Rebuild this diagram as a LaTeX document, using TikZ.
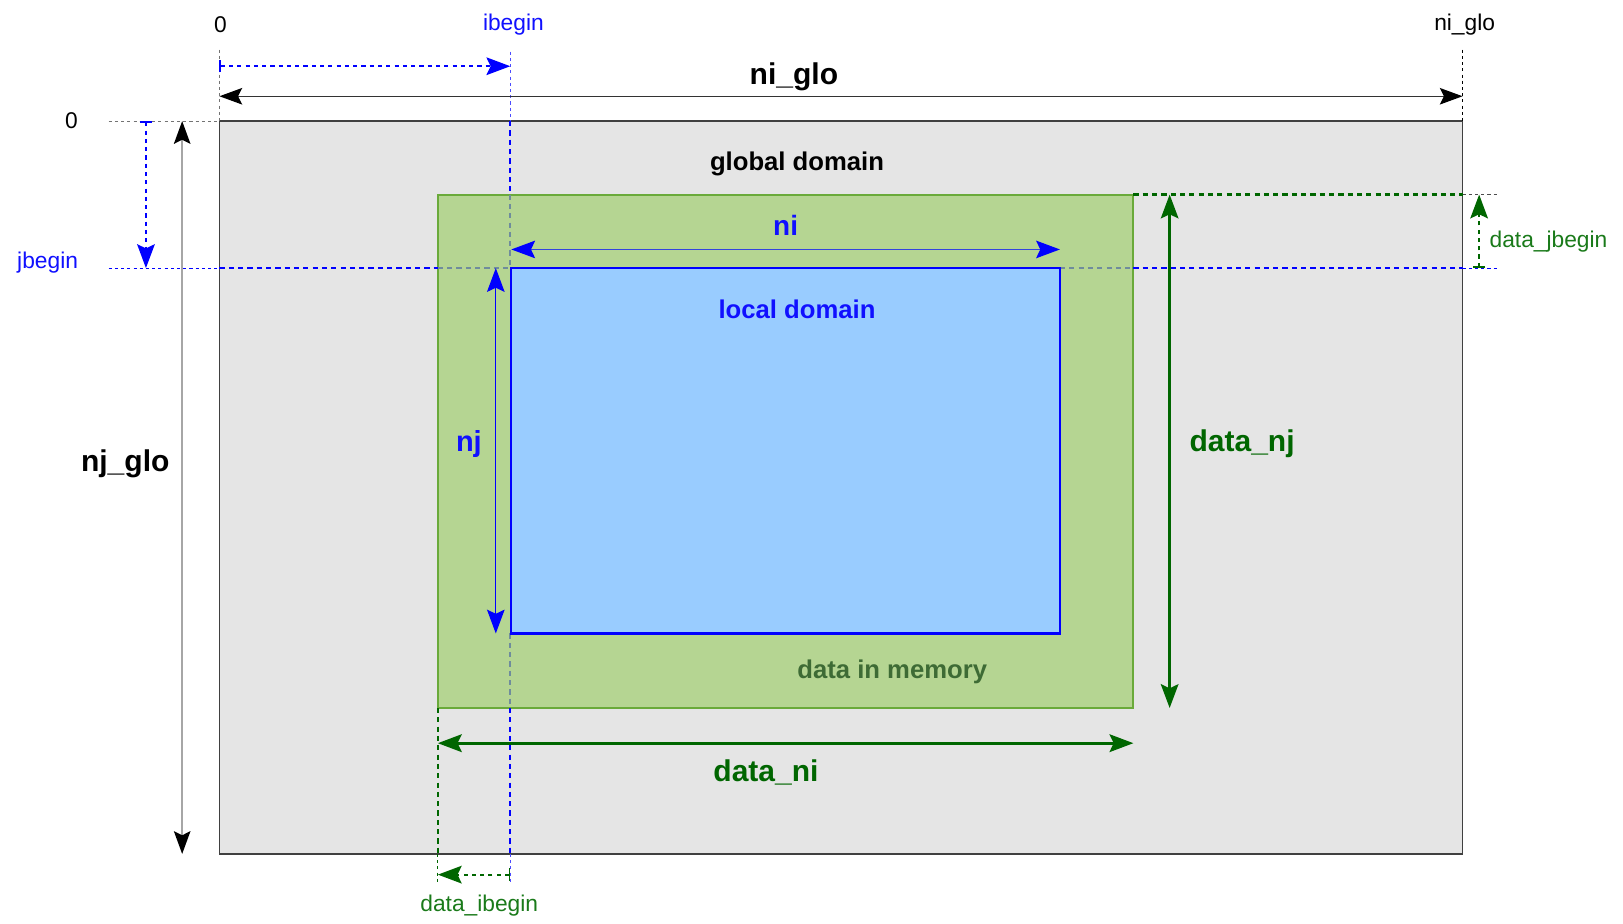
\documentclass[tikz,border=0pt]{standalone}
\usepackage{fontspec}
\setmainfont{Liberation Sans}
\usetikzlibrary{arrows.meta}
\definecolor{glfill}{HTML}{E5E5E5}
\definecolor{grfill}{HTML}{B5D592}
\definecolor{grline}{HTML}{6AAA3A}
\definecolor{blfill}{HTML}{99CCFF}
\definecolor{dkgreen}{HTML}{006600}
\definecolor{lbgreen}{HTML}{1A7A1A}
\definecolor{memgreen}{HTML}{3E6B35}
\definecolor{mixline}{HTML}{6F8C9C}
\definecolor{niblue}{HTML}{3344DD}
\definecolor{txblue}{HTML}{1010FF}
\begin{document}
\begin{tikzpicture}[x=0.5pt,y=-0.5pt,
  >={Stealth[length=11.5pt,width=8.5pt,inset=2pt]},
  thinguide/.style={line width=0.45pt,dash pattern=on 1.5pt off 1.5pt},
  thickguide/.style={line width=1.1pt,dash pattern=on 2.5pt off 2pt},
  dotarrow/.style={line width=1.1pt,dash pattern=on 2pt off 2pt},
  smalllbl/.style={font=\fontsize{11}{12}\selectfont},
  biglbl/.style={font=\bfseries\fontsize{14.5}{16}\selectfont},
  midlbl/.style={font=\bfseries\fontsize{12.4}{14}\selectfont},
  box/.style={rectangle,inner sep=0pt,outer sep=0pt,anchor=north west}
]
\useasboundingbox (0,0) rectangle (1568,892);

% rectangles
\node[box,draw=black!75,fill=glfill,line width=0.6pt,minimum width=600.5pt,minimum height=354pt] (glob) at (212,117) {};
\node[box,draw=grline,fill=grfill,line width=0.9pt,minimum width=336pt,minimum height=248pt] (mem) at (423,188) {};

% coordinates
\coordinate (zt) at (212,48);
\coordinate (zb) at (212,117);
\coordinate (ngt) at (1413,48);
\coordinate (ngb) at (1413,117);
\coordinate (zl) at (105,117);
\coordinate (ibt) at (493,50);
\coordinate (ib1) at (493,117);
\coordinate (ib2) at (493,188);
\coordinate (ib3) at (493,259);
\coordinate (ib4) at (493,612);
\coordinate (ib5) at (493,684);
\coordinate (ib6) at (493,825);
\coordinate (ib7) at (493,855);
\coordinate (jb0) at (105,259);
\coordinate (jb1) at (212,259);
\coordinate (jb2) at (423,259);
\coordinate (jb3) at (494,259);
\coordinate (jb4) at (1024,259);
\coordinate (jb5) at (1095,259);
\coordinate (jb6) at (1413,259);
\coordinate (jb7) at (1448,259);
\coordinate (dj1) at (1095,188);
\coordinate (dj2) at (1413,188);
\coordinate (dj3) at (1448,188);
\coordinate (di1) at (423,684);
\coordinate (di2) at (423,825);
\coordinate (di3) at (423,855);

% guide lines
\draw[thinguide,black!55] (zt) -- (zb);
\draw[thinguide,black] (ngt) -- (ngb);
\draw[thinguide,black!55] (zl) -- (zb);
\draw[thinguide,blue!70] (ibt) -- (ib1);
\draw[thickguide,blue] (ib1) -- (ib2);
\draw[thickguide,mixline] (ib2) -- (ib3);
\draw[thickguide,mixline] (ib4) -- (ib5);
\draw[thickguide,blue] (ib5) -- (ib6);
\draw[thinguide,blue!70] (ib6) -- (ib7);
\draw[thinguide,blue] (jb0) -- (jb1);
\draw[thickguide,blue] (jb1) -- (jb2);
\draw[thickguide,mixline] (jb2) -- (jb3);
\draw[thickguide,mixline] (jb4) -- (jb5);
\draw[thickguide,blue] (jb5) -- (jb6);
\draw[thinguide,blue] (jb6) -- (jb7);
\draw[thickguide,dkgreen] (dj1) -- (dj2);
\draw[thinguide,black!70] (dj2) -- (dj3);
\draw[thickguide,dkgreen] (di1) -- (di2);
\draw[thinguide,dkgreen] (di2) -- (di3);

\node[box,draw=blue,fill=blfill,line width=1.1pt,minimum width=265pt,minimum height=176.5pt] (loc) at (494,259) {};

% dimension arrows
\coordinate (a1) at (212,64);
\coordinate (a2) at (493,64);
\draw[dotarrow,blue,{Bar[width=6pt,line width=0.8pt]}->] (a1) -- (a2);
\coordinate (b1) at (212,93);
\coordinate (b2) at (1413,93);
\draw[line width=0.6pt,black!80,{Stealth[length=11pt,width=8pt,inset=2pt,black]}-{Stealth[length=11pt,width=8pt,inset=2pt,black]}] (b1) -- (b2);
\coordinate (c1) at (141,117);
\coordinate (c2) at (141,259);
\draw[dotarrow,blue,{Bar[width=6pt,line width=0.8pt]}->] (c1) -- (c2);
\coordinate (d1) at (176,117);
\coordinate (d2) at (176,825);
\draw[line width=0.7pt,black!35,{Stealth[length=11pt,width=8pt,inset=2pt,black]}-{Stealth[length=11pt,width=8pt,inset=2pt,black]}] (d1) -- (d2);
\coordinate (e1) at (494,241);
\coordinate (e2) at (1024,241);
\draw[line width=0.6pt,niblue,{Stealth[length=11.5pt,width=8.5pt,inset=2pt,blue]}-{Stealth[length=11.5pt,width=8.5pt,inset=2pt,blue]}] (e1) -- (e2);
\coordinate (f1) at (479,259);
\coordinate (f2) at (479,612);
\draw[line width=0.6pt,blue,<->] (f1) -- (f2);
\coordinate (g1) at (1130,188);
\coordinate (g2) at (1130,684);
\draw[line width=1.2pt,dkgreen,<->] (g1) -- (g2);
\coordinate (h1) at (423,718);
\coordinate (h2) at (1095,718);
\draw[line width=1.6pt,dkgreen,<->] (h1) -- (h2);
\coordinate (k1) at (1429,259);
\coordinate (k2) at (1429,188);
\draw[dotarrow,dkgreen,{Bar[width=6pt,line width=0.8pt]}->] (k1) -- (k2);
\coordinate (m1) at (493,845);
\coordinate (m2) at (423,845);
\draw[dotarrow,dkgreen,{Bar[width=6pt,line width=0.8pt]}->] (m1) -- (m2);

% labels
\node[smalllbl,black] (t0) at (213,24) {0};
\node[smalllbl,txblue] (tib) at (496,24) {ibegin};
\node[smalllbl,black] (tng) at (1415,24) {ni\_glo};
\node[biglbl,black] (tnig) at (767,74) {ni\_glo};
\node[smalllbl,black] (l0) at (69,117) {0};
\node[smalllbl,txblue] (tjb) at (46,254) {jbegin};
\node[midlbl,black] (tgd) at (770,158) {global domain};
\node[biglbl,font=\bfseries\fontsize{13.5}{15}\selectfont,txblue] (tni) at (759,218) {ni};
\node[midlbl,txblue] (tld) at (770,299) {local domain};
\node[biglbl,font=\bfseries\fontsize{14}{15}\selectfont,txblue] (tnj) at (453,429) {nj};
\node[biglbl,black] (tnjg) at (121,448) {nj\_glo};
\node[biglbl,dkgreen] (tdnj) at (1200,429) {data\_nj};
\node[midlbl,memgreen] (tdm) at (862,649) {data in memory};
\node[biglbl,dkgreen] (tdni) at (740,746) {data\_ni};
\node[smalllbl,lbgreen] (tdjb) at (1496,233) {data\_jbegin};
\node[smalllbl,lbgreen] (tdib) at (463,875) {data\_ibegin};
\end{tikzpicture}
\end{document}
